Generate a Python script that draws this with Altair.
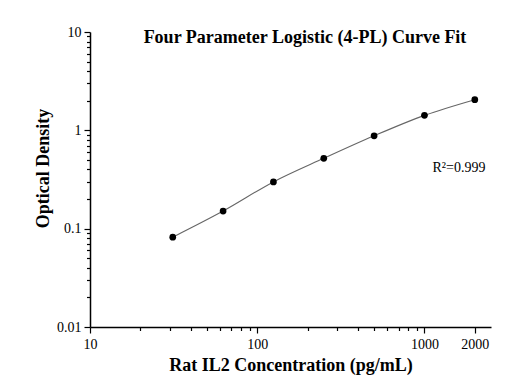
import altair as alt
import pandas as pd

# Data
concentration = [31.25, 62.5, 125, 250, 500, 1000, 2000]
optical_density = [0.082, 0.151, 0.299, 0.519, 0.88, 1.42, 2.05]

x_major = [10, 100, 1000, 2000]
x_ticks = [m * 10 for m in range(1, 10)] + [m * 100 for m in range(1, 10)] + [1000, 2000]
y_major = [0.01, 0.1, 1, 10]
y_ticks = [round(m * 10 ** e, 4) for e in (-2, -1, 0) for m in range(1, 10)] + [10]

df = pd.DataFrame({"conc": concentration, "od": optical_density})

FONT = "Liberation Serif"

def major_test(vals):
    return "indexof([" + ",".join(str(v) for v in vals) + "], datum.value) >= 0"

x_axis = alt.Axis(
    values=x_ticks,
    labelExpr=major_test(x_major) + " ? toString(datum.value) : ''",
    tickSize={"condition": {"test": major_test(x_major), "value": 6}, "value": 3.5},
    title="Rat IL2 Concentration (pg/mL)",
    titleFont=FONT, titleFontSize=18, titleFontWeight="bold", titleColor="black",
    titlePadding=5,
    labelFont=FONT, labelFontSize=14, labelColor="black", labelPadding=4,
    domainColor="black", domainWidth=1.5, tickColor="black", tickWidth=1.2,
    grid=False, labelFlush=False, labelOverlap=False,
)
y_axis = alt.Axis(
    values=y_ticks,
    labelExpr=major_test(y_major) + " ? toString(datum.value) : ''",
    tickSize={"condition": {"test": major_test(y_major), "value": 6}, "value": 3.5},
    title="Optical Density",
    titleFont=FONT, titleFontSize=18, titleFontWeight="bold", titleColor="black",
    titlePadding=4, titleY=136,
    labelFont=FONT, labelFontSize=14, labelColor="black", labelPadding=3,
    domainColor="black", domainWidth=1.5, tickColor="black", tickWidth=1.2,
    grid=False, labelFlush=False, labelOverlap=False,
)

x_enc = alt.X("conc:Q", scale=alt.Scale(type="log", domain=[10, 2500], nice=False), axis=x_axis)
y_enc = alt.Y("od:Q", scale=alt.Scale(type="log", domain=[0.01, 10], nice=False), axis=y_axis)

base = alt.Chart(df)
line = base.mark_line(color="#666666", strokeWidth=1.1, interpolate="monotone").encode(x=x_enc, y=y_enc)
points = base.mark_circle(color="black", opacity=1, size=45).encode(x=x_enc, y=y_enc)

title_txt = alt.Chart(pd.DataFrame({"t": ["Four Parameter Logistic (4-PL) Curve Fit"]})).mark_text(
    font=FONT, fontSize=18, fontWeight="bold", color="black", align="center", baseline="alphabetic"
).encode(text="t:N", x=alt.value(215), y=alt.value(11))

r2_txt = alt.Chart(pd.DataFrame({"t": ["R²=0.999"]})).mark_text(
    font=FONT, fontSize=14, color="black", align="center", baseline="alphabetic"
).encode(text="t:N", x=alt.value(369), y=alt.value(140))

chart = alt.layer(line, points, title_txt, r2_txt).properties(
    width=401, height=295,
    autosize=alt.AutoSizeParams(type="none"),
    padding={"left": 90, "top": 32, "right": 21, "bottom": 51},
    background="white",
).configure_view(stroke=None)

chart.save("out.html", embed_options={"renderer": "svg", "actions": False})
